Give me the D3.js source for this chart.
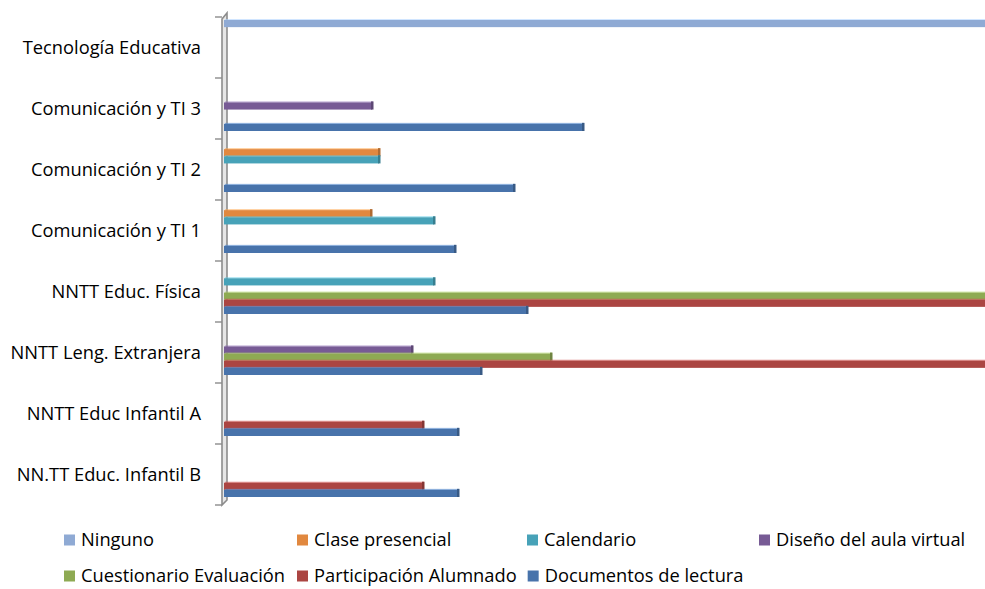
<!DOCTYPE html>
<html>
<head>
<meta charset="utf-8">
<script src="https://cdn.jsdelivr.net/npm/d3@7"></script>
<style>
  body { margin: 0; background: #fff; }
  svg { display: block; font-family: "Open Sans", Lato, sans-serif; }
</style>
</head>
<body>
<div id="chart"></div>
<script>
//
// DATA
//
// categories, top to bottom as they show on the chart
const categories = [
    'Tecnología Educativa',
    'Comunicación y TI 3',
    'Comunicación y TI 2',
    'Comunicación y TI 1',
    'NNTT Educ. Física',
    'NNTT Leng. Extranjera',
    'NNTT Educ Infantil A',
    'NN.TT Educ. Infantil B',
]
// series, in legend order (top bar of each group first)
const seriesNames = [
    'Ninguno',
    'Clase presencial',
    'Calendario',
    'Diseño del aula virtual',
    'Cuestionario Evaluación',
    'Participación Alumnado',
    'Documentos de lectura',
]
// one value per category, same order as categories
const ninguno       = [100, 0, 0, 0, 0, 0, 0, 0]
const clasePres     = [0, 0, 15.5, 14.7, 0, 0, 0, 0]
const calendario    = [0, 0, 15.5, 21.0, 21.0, 0, 0, 0]
const disenoAula    = [0, 14.8, 0, 0, 0, 18.8, 0, 0]
const cuestionario  = [0, 0, 0, 0, 100, 32.7, 0, 0]
const participacion = [0, 0, 0, 0, 100, 100, 19.9, 19.9]
const documentos    = [0, 35.9, 29.0, 23.1, 30.3, 25.7, 23.4, 23.4]
const seriesValues = [ninguno, clasePres, calendario, disenoAula, cuestionario, participacion, documentos]

const colors = ['#8faad4', '#e1883f', '#47a2b8', '#775b95', '#8eaa53', '#ab4542', '#4873ab']

//
// GLOBALS
//
const width = 985
const height = 589
const plot = { left: 224, top: 17, bottom: 505 }
const fontSize = 18.3

const svg = d3.select('#chart').append('svg')
    .attr('width', width).attr('height', height)
    .attr('viewBox', `0 0 ${width} ${height}`)

// scales: the plot area runs on past the right edge, so long bars are cut
const x = d3.scaleLinear().domain([0, 100]).range([plot.left, plot.left + 1000])
const y = d3.scaleBand().domain(categories).range([plot.top, plot.bottom])
// inner band for the series inside a group (a bit shifted up, 3D look)
const yInner = d3.scaleBand().domain(seriesNames).range([3, y.bandwidth() - 8])

// 3D wall of the category axis
const wall = svg.append('g').attr('class', 'wall')
wall.append('path')
    .attr('d', `M${plot.left - 2},${plot.top + 2} L${plot.left + 3},${plot.top - 4} L${plot.left + 3},${plot.bottom - 5} L${plot.left - 2},${plot.bottom}Z`)
    .attr('fill', '#e6e6e6')
    .attr('stroke', '#8c8c8c')
    .attr('stroke-width', 1.6)

// tick marks on the band boundaries
const bounds = categories.map(c => y(c)).concat([plot.bottom])
wall.selectAll('line.tick')
    .data(bounds)
    .join('line')
    .attr('class', 'tick')
    .attr('x1', plot.left - 9).attr('x2', plot.left - 2)
    .attr('y1', d => d).attr('y2', d => d)
    .attr('stroke', '#8c8c8c')
    .attr('stroke-width', 1.4)

// bars
seriesNames.forEach((name, si) => {
    const col = d3.color(colors[si])
    const g = svg.append('g').attr('class', 'series series-' + si)
    const rows = categories.map((c, ci) => ({ cat: c, value: seriesValues[si][ci] }))
        .filter(d => d.value > 0)
    const h = yInner.bandwidth()
    // top face
    g.selectAll('rect.top')
        .data(rows)
        .join('rect')
        .attr('class', 'top')
        .attr('x', x(0) + 1)
        .attr('y', d => y(d.cat) + yInner(name) - 1)
        .attr('width', d => x(d.value) - x(0))
        .attr('height', 1.2)
        .attr('fill', col.brighter(0.6).copy({ opacity: 0.6 }))
    // front face
    g.selectAll('rect.front')
        .data(rows)
        .join('rect')
        .attr('class', 'front')
        .attr('x', x(0))
        .attr('y', d => y(d.cat) + yInner(name))
        .attr('width', d => x(d.value) - x(0))
        .attr('height', h)
        .attr('fill', col)
    // darker end cap
    g.selectAll('rect.cap')
        .data(rows)
        .join('rect')
        .attr('class', 'cap')
        .attr('x', d => x(d.value) - 1)
        .attr('y', d => y(d.cat) + yInner(name) - 1)
        .attr('width', 2.5)
        .attr('height', h + 1)
        .attr('fill', col.darker(0.7))
})

// category labels
svg.append('g').attr('class', 'labels')
    .selectAll('text')
    .data(categories)
    .join('text')
    .attr('x', 201)
    .attr('y', d => y(d) + y.bandwidth() / 2)
    .attr('dy', '0.35em')
    .attr('text-anchor', 'end')
    .attr('font-size', fontSize)
    .attr('fill', '#000')
    .text(d => d)

// legend: 4 columns, items pushed right when the previous text runs long
// (second row is kept just inside the bottom edge)
const legend = svg.append('g').attr('class', 'legend')
const colX = [64, 297, 527, 759]
const rowY = [540, 576]
let prevEnd = 0
seriesNames.forEach((name, i) => {
    const row = Math.floor(i / 4)
    const c = i % 4
    if (c === 0) prevEnd = 0
    const lx = Math.max(colX[c], prevEnd + 11)
    const item = legend.append('g').attr('transform', `translate(${lx},${rowY[row]})`)
    item.append('rect')
        .attr('x', 0).attr('y', -5.5)
        .attr('width', 11).attr('height', 11)
        .attr('fill', colors[i])
    const t = item.append('text')
        .attr('x', 17).attr('y', 0)
        .attr('dy', '0.35em')
        .attr('font-size', fontSize)
        .attr('fill', '#000')
        .text(name)
    prevEnd = lx + 17 + t.node().getComputedTextLength()
})
</script>
</body>
</html>
